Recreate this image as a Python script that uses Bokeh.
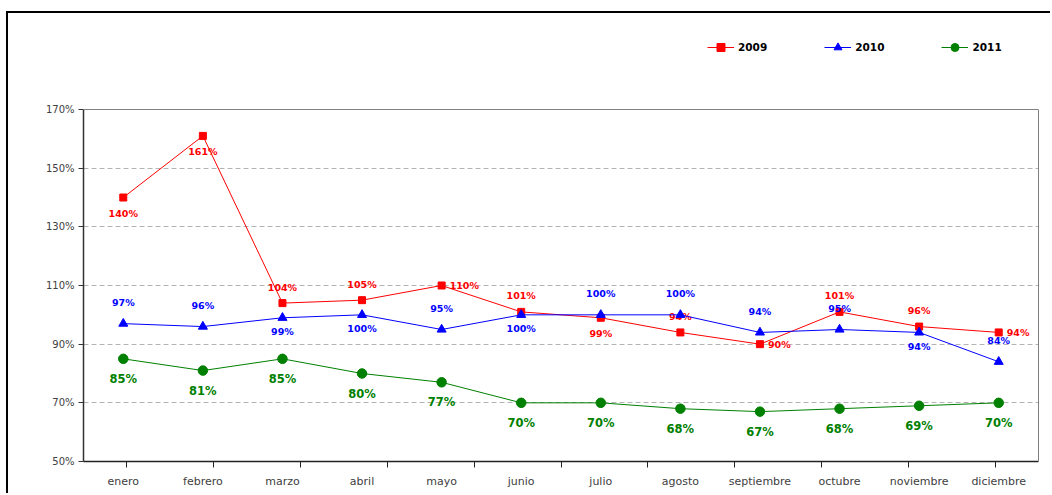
from bokeh.plotting import figure
from bokeh.models import (FactorRange, Range1d, CategoricalAxis, LinearAxis, FixedTicker, Span,
                          PrintfTickFormatter, ColumnDataSource, Legend, LegendItem)
from bokeh.core.properties import value
from bokeh.embed import file_html
from bokeh.resources import INLINE

months = ["enero", "febrero", "marzo", "abril", "mayo", "junio", "julio",
          "agosto", "septiembre", "octubre", "noviembre", "diciembre"]
y_ticks = [50, 70, 90, 110, 130, 150, 170]

v2009 = [140, 161, 104, 105, 110, 101, 99, 94, 90, 101, 96, 94]
v2010 = [97, 96, 99, 100, 95, 100, 100, 100, 94, 95, 94, 84]
v2011 = [85, 81, 85, 80, 77, 70, 70, 68, 67, 68, 69, 70]

# label placement relative to each point (style, not data)
pos2009 = ["below", "below", "above", "above", "right", "above", "below", "above", "right", "above", "above", "right"]
pos2010 = ["above", "above", "below", "below", "above", "below", "above", "above", "above", "above", "below", "above"]
pos2011 = ["below"] * 12

FONT = "DejaVu Sans"
Y_MIN, Y_MAX = y_ticks[0], y_ticks[-1]

p = figure(width=1044, height=482,
           x_range=FactorRange(*months, range_padding=0),
           y_range=Range1d(Y_MIN, 200),   # headroom above the plot area holds the legend
           x_axis_location=None, y_axis_location="left",
           output_backend="svg", toolbar_location=None,
           min_border_left=75, min_border_right=14, min_border_top=8, min_border_bottom=34)
p.styles = {"margin-top": "11px", "margin-left": "6px",
            "border-top": "2px solid black", "border-left": "2px solid black"}

p.background_fill_color = "white"
p.border_fill_color = "white"
p.outline_line_color = None

# y axis
ya = p.yaxis[0]
ya.bounds = (Y_MIN, Y_MAX)
ya.ticker = FixedTicker(ticks=y_ticks, minor_ticks=[])
ya.formatter = PrintfTickFormatter(format="%d%%")
ya.major_tick_out = 5
ya.major_tick_in = 0
ya.minor_tick_line_color = None
ya.axis_line_color = "#333333"
ya.axis_line_width = 1.5
ya.major_tick_line_color = "#333333"
ya.major_label_text_font = FONT
ya.major_label_text_font_size = "10px"
ya.major_label_text_color = "#404040"
ya.major_label_standoff = 4

# right border of the plot area
ra = LinearAxis(bounds=(Y_MIN, Y_MAX), ticker=FixedTicker(ticks=[], minor_ticks=[]),
                axis_line_color="#808080", axis_line_width=1,
                major_tick_line_color=None, minor_tick_line_color=None,
                major_label_text_font_size="1px", major_label_text_color=None)
p.add_layout(ra, "right")

# top border of the plot area
p.add_layout(Span(location=Y_MAX, dimension="width", line_color="#808080", line_width=1))

p.xgrid.visible = False
p.ygrid.ticker = FixedTicker(ticks=y_ticks[1:-1], minor_ticks=[])
p.ygrid.grid_line_color = "#B4B4B4"
p.ygrid.grid_line_dash = "5 3"
p.ygrid.grid_line_width = 1

# x axis: ticks on the category boundaries + category labels
bounds = [f"b{i}" for i in range(len(months) + 1)]
p.extra_x_ranges = {"bounds": FactorRange(*bounds, range_padding=-1, range_padding_units="absolute")}
tick_axis = CategoricalAxis(x_range_name="bounds",
                            major_tick_out=6, major_tick_in=0,
                            major_label_text_font_size="1px", major_label_text_color=None,
                            major_label_standoff=0,
                            axis_line_color="#222222", axis_line_width=1.5,
                            major_tick_line_color="#222222")
p.add_layout(tick_axis, "below")
cat_axis = CategoricalAxis(axis_line_color=None, major_tick_line_color=None,
                           major_tick_out=0, major_tick_in=0,
                           major_label_text_font=FONT, major_label_text_font_size="11px",
                           major_label_text_color="#404040", major_label_standoff=7)
p.add_layout(cat_axis, "below")

def add_series(vals, color, marker, size, pos, up, down, right, fsize):
    l = p.line(months, vals, line_color=color, line_width=1)
    s = p.scatter(months, vals, marker=marker, size=size, fill_color=color, line_color=color)
    dx, dy, al = [], [], []
    for q in pos:
        if q == "below":
            dx.append(0); dy.append(down); al.append("center")
        elif q == "above":
            dx.append(0); dy.append(-up); al.append("center")
        else:
            dx.append(right); dy.append(0); al.append("left")
    src = ColumnDataSource(dict(x=months, y=vals, t=[f"{v}%" for v in vals], dx=dx, dy=dy, al=al))
    p.text(x="x", y="y", text="t", x_offset="dx", y_offset="dy", text_align="al", source=src,
           text_baseline="middle", text_color=color, text_font=value(FONT),
           text_font_style="bold", text_font_size=fsize)
    return l, s

l3, s3 = add_series(v2011, "#008000", "circle", 9.5, pos2011, 20, 20, 8, "11.5px")
l1, s1 = add_series(v2009, "#FF0000", "square", 7, pos2009, 16, 16, 8, "9.5px")
l2, s2 = add_series(v2010, "#0000FF", "triangle", 9, pos2010, 21, 14, 8, "9.5px")

legend = Legend(items=[LegendItem(label="2009", renderers=[l1, s1]),
                       LegendItem(label="2010", renderers=[l2, s2]),
                       LegendItem(label="2011", renderers=[l3, s3])],
                orientation="horizontal", location=(624, 404),
                spacing=57, glyph_width=27, glyph_height=20, label_standoff=4,
                padding=0, margin=0, border_line_color=None, background_fill_alpha=0,
                label_text_font=FONT, label_text_font_style="bold", label_text_font_size="10.5px",
                label_text_color="#000000")
p.add_layout(legend)

open("out.html", "w").write(file_html(p, INLINE))
